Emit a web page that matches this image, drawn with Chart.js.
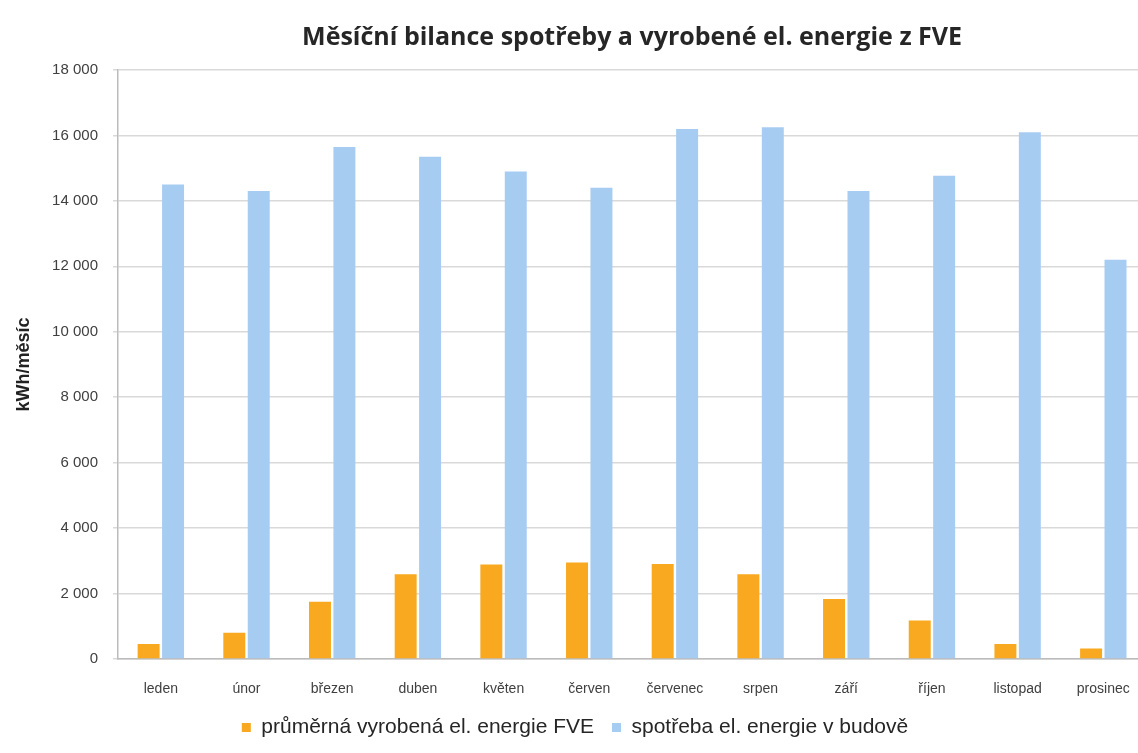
<!DOCTYPE html>
<html>
<head>
<meta charset="utf-8">
<script src="https://cdn.jsdelivr.net/npm/chart.js@4/dist/chart.umd.min.js"></script>
<style>
  html, body { margin: 0; padding: 0; background: #fff; overflow: hidden; }
  #wrap { width: 1152px; height: 753px; }
</style>
</head>
<body>
<div id="wrap"><canvas id="bilance" width="1152" height="753"></canvas></div>
<script>
// mesice a hodnoty (kWh/mesic)
var mesice = ["leden", "únor", "březen", "duben", "květen", "červen",
              "červenec", "srpen", "září", "říjen", "listopad", "prosinec"];
var vyrobaFVE = [460, 800, 1750, 2590, 2890, 2950, 2900, 2590, 1830, 1180, 460, 320];
var spotreba  = [14500, 14300, 15650, 15350, 14900, 14400, 16200, 16250, 14300, 14770, 16100, 12200];
var osaY = [0, 2000, 4000, 6000, 8000, 10000, 12000, 14000, 16000, 18000];

function tisice(v) {
    return String(v).replace(/\B(?=(\d{3})+(?!\d))/g, " ");
}

var pismo = "'Liberation Sans', Arial, sans-serif";
var ctx = document.getElementById("bilance");

var graf = new Chart(ctx, {
    type: "bar",
    data: {
        labels: mesice,
        datasets: [{
            label: "průměrná vyrobená el. energie FVE",
            backgroundColor: "#f8a91f",
            data: vyrobaFVE
        }, {
            label: "spotřeba el. energie v budově",
            backgroundColor: "#a7ccf2",
            data: spotreba
        }]
    },
    options: {
        responsive: false,
        animation: false,
        categoryPercentage: 0.57,
        barPercentage: 0.9,
        layout: { padding: { left: 0, right: 2, top: 0, bottom: 5 } },
        plugins: {
            tooltip: { enabled: false },
            title: {
                display: true,
                fullSize: false,
                text: "Měsíční bilance spotřeby a vyrobené el. energie z FVE",
                color: "#262626",
                font: { family: "'Open Sans', 'Noto Sans', sans-serif", size: 25, weight: "bold", lineHeight: 1.2 },
                padding: { top: 23, bottom: 17 }
            },
            legend: {
                position: "bottom",
                labels: {
                    color: "#262626",
                    font: { family: pismo, size: 21 },
                    boxWidth: 9,
                    boxHeight: 9,
                    padding: 18
                }
            }
        },
        scales: {
            x: {
                grid: { display: false, drawTicks: false },
                border: { display: true, color: "#bcbcbc", width: 1.5 },
                ticks: {
                    color: "#404040",
                    padding: 22,
                    maxRotation: 0,
                    autoSkip: false,
                    font: { family: pismo, size: 14 }
                },
                afterFit: function (s) { s.height = 40; }
            },
            y: {
                min: 0,
                max: 18000,
                afterBuildTicks: function (s) {
                    s.ticks = osaY.map(function (v) { return { value: v }; });
                },
                grid: { color: "#d9d9d9", lineWidth: 1.5, tickLength: 5 },
                border: { display: true, color: "#bcbcbc", width: 1.5 },
                ticks: {
                    color: "#404040",
                    padding: 15,
                    font: { family: pismo, size: 15 },
                    callback: function (v) { return tisice(v); }
                },
                title: {
                    display: true,
                    text: "kWh/měsíc",
                    color: "#222",
                    font: { family: pismo, size: 18, weight: "bold" },
                    padding: { top: 13, bottom: 0 }
                },
                afterFit: function (s) { s.width = 118; }
            }
        }
    }
});
</script>
</body>
</html>
